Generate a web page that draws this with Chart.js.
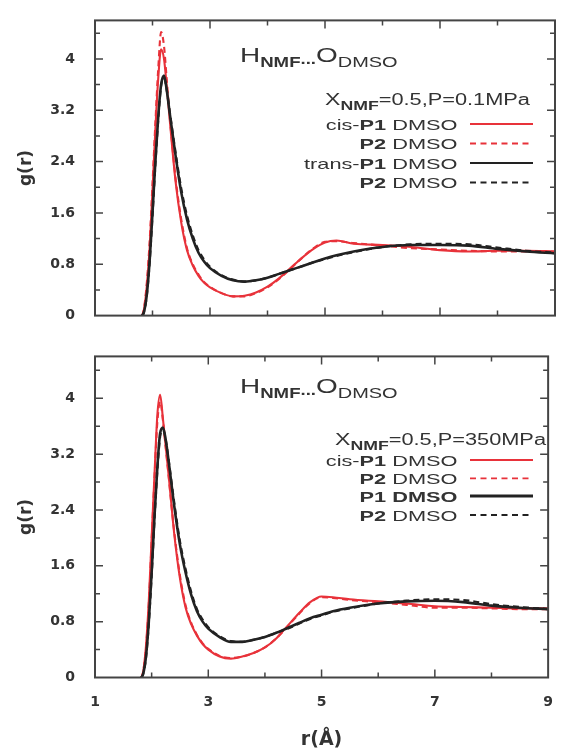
<!DOCTYPE html>
<html>
<head>
<meta charset="utf-8">
<script src="https://cdn.jsdelivr.net/npm/chart.js@4.4.0/dist/chart.umd.min.js"></script>
<style>
  html, body { margin: 0; padding: 0; background: #fff; }
  #wrap { position: relative; width: 561px; height: 751px; }
  #topChart { position: absolute; left: 0; top: 0; }
  #botChart { position: absolute; left: 0; top: 336px; }
</style>
</head>
<body>
<div id="wrap">
  <canvas id="topChart" width="561" height="336"></canvas>
  <canvas id="botChart" width="561" height="415"></canvas>
</div>
<script>
// r values (Angstrom) shared by all curves
var rValues = [1.82, 1.85, 1.9, 1.95, 2.0, 2.05, 2.1, 2.15, 2.2, 2.25, 2.3, 2.4, 2.5, 2.6, 2.7, 2.8, 2.9, 3.0,
  3.2, 3.4, 3.6, 3.8, 4.0, 4.2, 4.4, 4.6, 4.8, 5.0, 5.2, 5.5, 6.0, 6.5, 7.0, 7.5, 8.0, 8.5, 9.0];

// P = 0.1 MPa
var topCisP1 = [0, 0.08, 0.45, 1.05, 1.95, 2.9, 3.7, 4.15, 4.0, 3.55, 3.05, 2.1, 1.45, 1.02, 0.78, 0.62, 0.51, 0.44,
  0.35, 0.3, 0.31, 0.36, 0.45, 0.58, 0.74, 0.9, 1.04, 1.14, 1.17, 1.12, 1.1, 1.07, 1.02, 1.0, 1.01, 1.01, 1.0];
var topCisP2 = [0, 0.1, 0.5, 1.15, 2.05, 3.0, 3.85, 4.42, 4.2, 3.65, 3.1, 2.15, 1.5, 1.05, 0.8, 0.64, 0.52, 0.45,
  0.35, 0.3, 0.3, 0.35, 0.44, 0.57, 0.73, 0.9, 1.05, 1.15, 1.16, 1.13, 1.09, 1.05, 1.03, 1.01, 1.0, 1.0, 1.0];
var topTransP1 = [0, 0.05, 0.32, 0.85, 1.6, 2.4, 3.1, 3.6, 3.74, 3.5, 3.15, 2.5, 1.92, 1.5, 1.2, 0.98, 0.84, 0.74,
  0.62, 0.55, 0.53, 0.55, 0.59, 0.65, 0.71, 0.77, 0.83, 0.89, 0.94, 1.0, 1.07, 1.1, 1.1, 1.09, 1.04, 1.0, 0.97];
var topTransP2 = [0, 0.05, 0.3, 0.82, 1.55, 2.35, 3.05, 3.58, 3.7, 3.5, 3.18, 2.55, 1.98, 1.56, 1.25, 1.02, 0.87, 0.76,
  0.63, 0.56, 0.53, 0.55, 0.59, 0.65, 0.71, 0.77, 0.83, 0.88, 0.93, 0.99, 1.07, 1.11, 1.12, 1.11, 1.06, 1.01, 0.98];

// P = 350 MPa
var botCisP1 = [0, 0.08, 0.45, 1.1, 2.0, 2.9, 3.75, 4.05, 3.7, 3.3, 2.9, 2.05, 1.42, 1.0, 0.76, 0.6, 0.48, 0.4,
  0.3, 0.27, 0.3, 0.35, 0.43, 0.56, 0.74, 0.92, 1.08, 1.16, 1.15, 1.12, 1.09, 1.06, 1.02, 1.01, 1.0, 0.99, 0.99];
var botCisP2 = [0, 0.08, 0.42, 1.05, 1.95, 2.85, 3.65, 3.95, 3.68, 3.28, 2.88, 2.08, 1.46, 1.03, 0.78, 0.61, 0.49, 0.41,
  0.31, 0.28, 0.3, 0.35, 0.43, 0.56, 0.73, 0.91, 1.07, 1.15, 1.14, 1.11, 1.08, 1.04, 1.0, 1.0, 0.99, 0.98, 0.98];
var botTransP1 = [0, 0.05, 0.3, 0.8, 1.5, 2.3, 3.0, 3.5, 3.58, 3.4, 3.1, 2.45, 1.9, 1.5, 1.18, 0.95, 0.8, 0.7,
  0.58, 0.51, 0.51, 0.54, 0.58, 0.64, 0.71, 0.78, 0.85, 0.9, 0.95, 1.0, 1.06, 1.09, 1.1, 1.08, 1.03, 1.0, 0.98];
var botTransP2 = [0, 0.05, 0.28, 0.77, 1.45, 2.25, 2.95, 3.45, 3.55, 3.4, 3.12, 2.5, 1.95, 1.55, 1.22, 0.98, 0.83, 0.72,
  0.59, 0.52, 0.51, 0.54, 0.58, 0.64, 0.7, 0.77, 0.84, 0.89, 0.94, 0.99, 1.06, 1.1, 1.12, 1.11, 1.05, 1.01, 0.98];

// tick labels
var xTickValues = [1, 3, 5, 7, 9];
var xTickLabels = ['1', '3', '5', '7', '9'];
var yTickLabels = ['0', '0.8', '1.6', '2.4', '3.2', '4'];

var RED = '#e8323a';
var BLACK = '#222';
var TEXT = '#333';
var FONT = 'Liberation Sans';

function points(arr) {
  return rValues.map(function(r, i) { return { x: r, y: arr[i] }; });
}

//Draws a row of text pieces (normal / bold / subscript), stretched sideways
function drawRuns(ctx, runs, x, y, align, sx) {
  var total = 0;
  runs.forEach(function(r) { ctx.font = r.font; r.w = ctx.measureText(r.text).width; total += r.w; });
  var start = x;
  if (align === 'right') start = x - total * sx;
  ctx.save();
  ctx.fillStyle = TEXT;
  ctx.textBaseline = 'alphabetic';
  ctx.textAlign = 'left';
  ctx.translate(start, y);
  ctx.scale(sx, 1);
  var cx = 0;
  runs.forEach(function(r) { ctx.font = r.font; ctx.fillText(r.text, cx, r.dy || 0); cx += r.w; });
  ctx.restore();
}

//Frame, inward ticks, title and legend
var framePlugin = {
  id: 'frame',
  afterDatasetsDraw: function(chart, args, opts) {
    var ctx = chart.ctx, a = chart.chartArea, xs = chart.scales.x, ys = chart.scales.y;
    ctx.save();
    ctx.strokeStyle = '#444';
    ctx.lineWidth = 1.5;
    ctx.beginPath();
    xs.ticks.forEach(function(t) {
      if (t.value <= xs.min || t.value >= xs.max) return;
      var len = (Math.round(t.value) % 2 === 1) ? 8 : 5;
      var px = xs.getPixelForValue(t.value);
      ctx.moveTo(px, a.bottom); ctx.lineTo(px, a.bottom - len);
      ctx.moveTo(px, a.top); ctx.lineTo(px, a.top + len);
    });
    ys.ticks.forEach(function(t) {
      if (t.value <= ys.min + 1e-6 || t.value >= ys.max - 1e-6) return;
      var k = t.value / 0.8;
      var len = Math.abs(k - Math.round(k)) < 1e-6 ? 8 : 5;
      var py = ys.getPixelForValue(t.value);
      ctx.moveTo(a.left, py); ctx.lineTo(a.left + len, py);
      ctx.moveTo(a.right, py); ctx.lineTo(a.right - len, py);
    });
    ctx.stroke();
    ctx.lineWidth = 2;
    ctx.strokeRect(a.left, a.top, a.right - a.left, a.bottom - a.top);
    ctx.restore();

    // H_NMF...O_DMSO
    drawRuns(ctx, [
      { text: 'H', font: '21px ' + FONT },
      { text: 'NMF', font: 'bold 14px ' + FONT, dy: 5 },
      { text: '...', font: 'bold 14px ' + FONT, dy: 2 },
      { text: 'O', font: '21px ' + FONT },
      { text: 'DMSO', font: '15px ' + FONT, dy: 5 }
    ], 240, opts.titleY, 'left', 1.33);

    // X_NMF=0.5,P=...
    drawRuns(ctx, [
      { text: 'X', font: '17px ' + FONT },
      { text: 'NMF', font: 'bold 13px ' + FONT, dy: 5 },
      { text: opts.condition, font: '16px ' + FONT }
    ], opts.condX, opts.condY, 'left', 1.36);

    opts.rows.forEach(function(row, i) {
      var cy = opts.rowY[i];
      drawRuns(ctx, row.runs, 457.5, cy + 5.5, 'right', 1.45);
      ctx.save();
      ctx.strokeStyle = row.color;
      ctx.lineWidth = row.width;
      ctx.setLineDash(row.dash);
      ctx.beginPath();
      ctx.moveTo(470, cy); ctx.lineTo(533, cy);
      ctx.stroke();
      ctx.restore();
    });
  }
};

function legendRows(blackLabel, boldAll) {
  var n = '15px ' + FONT, b = 'bold 15px ' + FONT;
  var blackRuns = blackLabel ? [{ text: blackLabel, font: n }, { text: 'P1', font: b }, { text: ' DMSO', font: n }]
                             : [{ text: 'P1', font: b }, { text: ' DMSO', font: boldAll ? '600 15px ' + FONT : n }];
  return [
    { runs: [{ text: 'cis-', font: n }, { text: 'P1', font: b }, { text: ' DMSO', font: n }], color: RED, width: 1.8, dash: [] },
    { runs: [{ text: 'P2', font: b }, { text: ' DMSO', font: n }], color: RED, width: 1.8, dash: [6, 4.5] },
    { runs: blackRuns, color: BLACK, width: boldAll ? 3 : 2, dash: [] },
    { runs: [{ text: 'P2', font: b }, { text: ' DMSO', font: n }], color: BLACK, width: 1.8, dash: [6, 4.5] }
  ];
}

function makeChart(id, series, showX, xHeight, padTop, plugOpts) {
  var ds = [
    { data: points(series[0]), borderColor: RED, borderWidth: 2.1, order: 1 },
    { data: points(series[1]), borderColor: RED, borderWidth: 2.1, borderDash: [6, 4], order: 1 },
    { data: points(series[2]), borderColor: BLACK, borderWidth: 2.6, order: 0 },
    { data: points(series[3]), borderColor: BLACK, borderWidth: 2.2, borderDash: [6, 4], order: 0 }
  ];
  ds.forEach(function(d) {
    d.pointRadius = 0;
    d.fill = false;
    d.cubicInterpolationMode = 'monotone';
  });
  return new Chart(document.getElementById(id), {
    type: 'line',
    data: { datasets: ds },
    plugins: [framePlugin],
    options: {
      responsive: false,
      animation: false,
      layout: { padding: { top: padTop, right: 6, left: 0, bottom: 0 } },
      plugins: { legend: { display: false }, tooltip: { enabled: false }, frame: plugOpts },
      scales: {
        x: {
          type: 'linear', min: 1, max: 9,
          grid: { display: false }, border: { display: false },
          ticks: {
            display: showX, stepSize: 1, padding: 8, color: TEXT, autoSkip: false, maxRotation: 0,
            font: { family: 'DejaVu Sans', weight: 'bold', size: 14 },
            callback: function(v) { var i = xTickValues.indexOf(v); return i < 0 ? '' : xTickLabels[i]; }
          },
          title: {
            display: showX, text: 'r(Å)', color: TEXT, padding: 0,
            font: { family: 'DejaVu Sans', weight: 'bold', size: 19 }
          },
          afterFit: function(s) { s.height = xHeight; }
        },
        y: {
          type: 'linear', min: 0, max: 4.6,
          grid: { display: false }, border: { display: false },
          ticks: {
            stepSize: 0.4, padding: 12, color: TEXT, autoSkip: false, includeBounds: false,
            font: { family: 'DejaVu Sans', weight: 'bold', size: 14 },
            callback: function(v) {
              var k = Math.round(v / 0.8);
              return Math.abs(v - k * 0.8) < 1e-6 ? yTickLabels[k] : '';
            }
          },
          title: {
            display: true, text: 'g(r)', color: TEXT, padding: { top: 16, bottom: 0 },
            font: { family: 'DejaVu Sans', weight: 'bold', size: 17 }
          },
          afterFit: function(s) { s.width = 95; }
        }
      }
    }
  });
}

makeChart('topChart', [topCisP1, topCisP2, topTransP1, topTransP2], false, 14.5, 15, {
  titleY: 62, condition: '=0.5,P=0.1MPa', condX: 325, condY: 105,
  rowY: [124, 143.5, 163, 182.5], rows: legendRows('trans-', false)
});

makeChart('botChart', [botCisP1, botCisP2, botTransP1, botTransP2], true, 73.5, 6, {
  titleY: 57, condition: '=0.5,P=350MPa', condX: 335, condY: 109,
  rowY: [124, 142.3, 160, 179], rows: legendRows(null, true)
});
</script>
</body>
</html>
